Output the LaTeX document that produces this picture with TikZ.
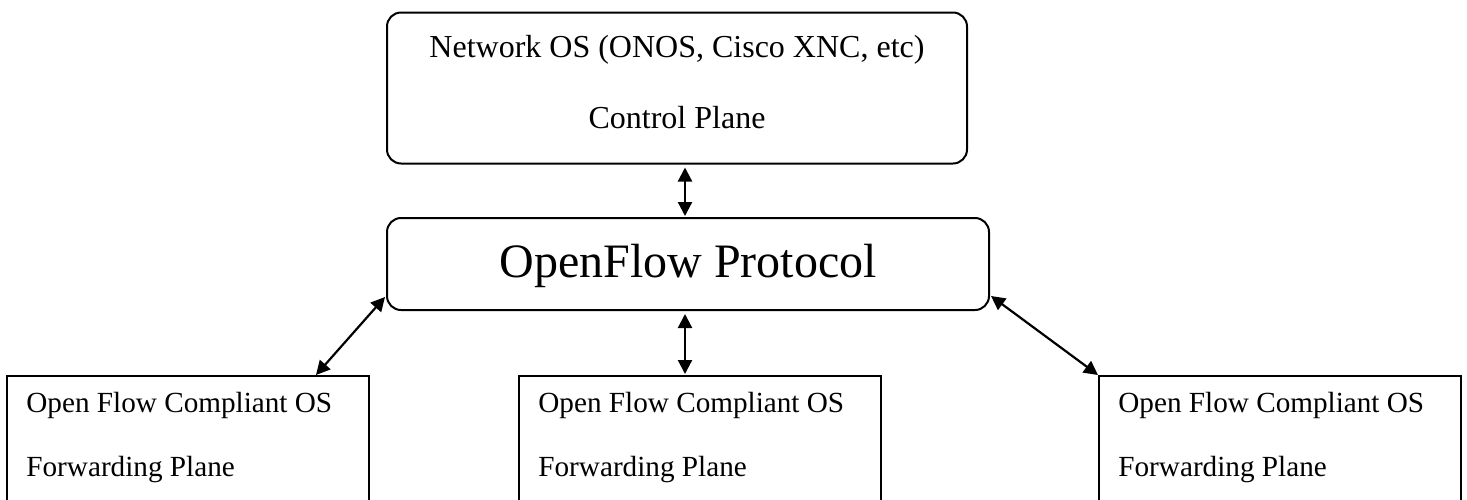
\documentclass[tikz,border=0pt]{standalone}
\usepackage{fontspec}
\setmainfont{Liberation Serif}
\usetikzlibrary{arrows.meta,calc}
\begin{document}
\begin{tikzpicture}[x=0.5pt,y=-0.5pt,
  boxline/.style={draw=black,line width=1pt,inner sep=0pt},
  roundbox/.style={boxline,rounded corners=7pt},
  fwdbox/.style={boxline,minimum width=181pt,minimum height=67pt},
  toptext/.style={font=\fontsize{16pt}{19pt}\selectfont,inner sep=0pt,anchor=base},
  bigtext/.style={font=\fontsize{24pt}{28pt}\selectfont,inner sep=0pt,anchor=base},
  boxtext/.style={font=\fontsize{14.6pt}{17pt}\selectfont,inner sep=0pt,anchor=base west},
  link/.style={line width=1.1pt,{Triangle[length=7pt,width=7pt]}-{Triangle[length=7pt,width=7pt]}}
]
\useasboundingbox (0,0) rectangle (1467,499);
% boxes
\node[roundbox,minimum width=290pt,minimum height=75.5pt] (top) at (677,88) {};
\node[roundbox,minimum width=301pt,minimum height=46pt] (mid) at (688,264) {};
\node[fwdbox] (fl) at (188,443) {};
\node[fwdbox] (fm) at (700,443) {};
\node[fwdbox] (fr) at (1280,443) {};
% texts
\node[toptext] (t1) at (677,57) {Network OS (ONOS, Cisco XNC, etc)};
\node[toptext] (t2) at (677,128) {Control Plane};
\node[bigtext] (mt) at (688,277) {OpenFlow Protocol};
\node[boxtext] (l1) at ($(fl.north west)+(20,37)$) {Open Flow Compliant OS};
\node[boxtext] (l2) at ($(fl.north west)+(20,101)$) {Forwarding Plane};
\node[boxtext] (m1) at ($(fm.north west)+(20,37)$) {Open Flow Compliant OS};
\node[boxtext] (m2) at ($(fm.north west)+(20,101)$) {Forwarding Plane};
\node[boxtext] (r1) at ($(fr.north west)+(20,37)$) {Open Flow Compliant OS};
\node[boxtext] (r2) at ($(fr.north west)+(20,101)$) {Forwarding Plane};
% connectors
\coordinate (ax) at (685,0);
\draw[link] ($(top.south -| ax)+(0,3)$) -- ($(mid.north -| ax)+(0,-1)$);
\draw[link] ($(mid.south -| ax)+(0,3)$) -- ($(fm.north -| ax)+(0,-1)$);
\draw[link] ($(mid.south west)+(-1,-14)$) -- ($(fl.north east)+(-54,0)$);
\draw[link] ($(mid.south east)+(1,-15)$) -- (fr.north west);
\end{tikzpicture}
\end{document}
